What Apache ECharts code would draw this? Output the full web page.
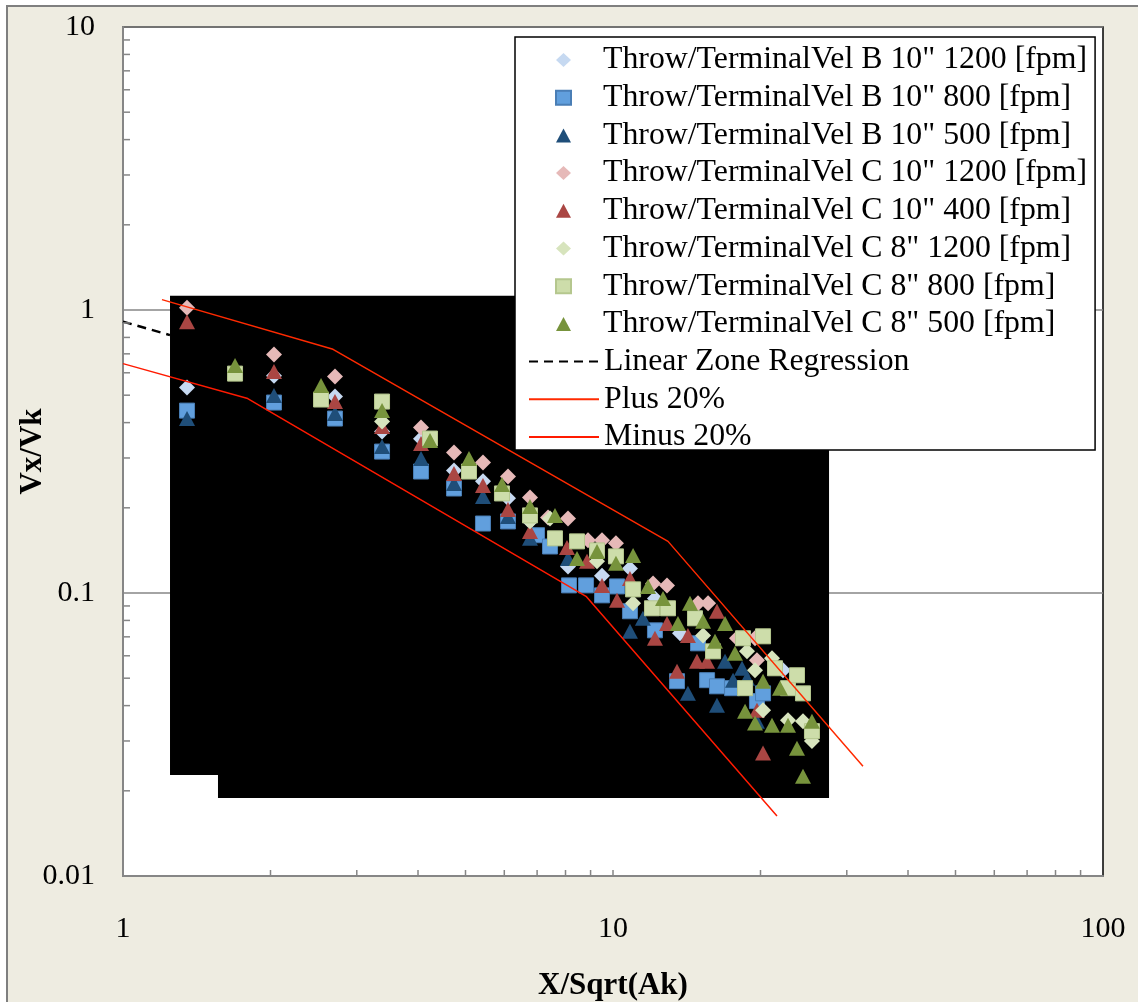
<!DOCTYPE html>
<html>
<head>
<meta charset="utf-8">
<script src="https://cdn.jsdelivr.net/npm/echarts@6/dist/echarts.min.js"></script>
<style>
  html, body { margin: 0; padding: 0; background: #fff; overflow: hidden; }
  #frame { position: absolute; left: 6px; top: 5px; width: 1140px; height: 1010px;
           background: #EEECE1; border-left: 2px solid #7F7F7F; border-top: 2px solid #7F7F7F; }
  #chart { position: absolute; left: 0; top: 0; width: 1138px; height: 1002px; }
</style>
</head>
<body>
<div id="frame"></div>
<div id="chart"></div>
<script>
// Throw / terminal velocity measurements, [X/Sqrt(Ak), Vx/Vk]
const seriesNames = [
  'Throw/TerminalVel B 10" 1200 [fpm]',
  'Throw/TerminalVel B 10" 800 [fpm]',
  'Throw/TerminalVel B 10" 500 [fpm]',
  'Throw/TerminalVel C 10" 1200 [fpm]',
  'Throw/TerminalVel C 10" 400 [fpm]',
  'Throw/TerminalVel C 8" 1200 [fpm]',
  'Throw/TerminalVel C 8" 800 [fpm]',
  'Throw/TerminalVel C 8" 500 [fpm]'
];
const lineNames = ['Linear Zone Regression', 'Plus 20%', 'Minus 20%'];

const b10_1200 = [[1.351,0.532],[2.033,0.586],[2.708,0.495],[3.378,0.372],[4.057,0.351],[4.737,0.271],
  [5.428,0.248],[6.105,0.216],[6.77,0.179],[8.094,0.124],[9.497,0.115],[10.83,0.122],[12.18,0.0957],
  [13.70,0.072],[22.23,0.0533]];
const b10_800 = [[1.351,0.441],[2.033,0.471],[2.708,0.4135],[3.378,0.316],[4.057,0.2687],[4.737,0.234],
  [5.428,0.176],[6.105,0.179],[6.997,0.160],[7.437,0.146],[8.132,0.1064],[8.81,0.1064],[9.497,0.0981],
  [10.19,0.1055],[10.83,0.0862],[12.18,0.0738],[13.51,0.0488],[14.91,0.0664],[15.56,0.0492],[16.30,0.0468],
  [17.50,0.0461],[19.67,0.0415],[20.24,0.0442]];
const b10_500 = [[1.351,0.4135],[2.033,0.4986],[2.708,0.4305],[3.378,0.3293],[4.057,0.2987],[4.737,0.2437],
  [5.428,0.2194],[6.105,0.1865],[6.77,0.156],[8.094,0.1325],[10.83,0.0732],[11.51,0.0814],[14.22,0.0442],
  [16.30,0.0401],[16.93,0.0574],[17.58,0.0492],[18.34,0.0542],[18.77,0.0500],[19.67,0.0352]];
const c10_1200 = [[1.351,1.019],[2.033,0.6956],[2.708,0.5816],[4.057,0.3844],[4.737,0.3137],[5.428,0.2891],
  [6.105,0.258],[6.77,0.2176],[7.37,0.185],[8.094,0.1835],[8.891,0.1535],[9.497,0.1535],[10.14,0.1498],
  [12.07,0.1081],[12.89,0.1064],[14.91,0.092],[15.63,0.092],[17.91,0.0692],[19.49,0.0692],[19.67,0.0578]];
const c10_400 = [[1.351,0.9095],[2.033,0.6058],[2.708,0.4747],[3.378,0.3875],[4.057,0.3375],[4.737,0.2644],
  [5.428,0.2399],[6.105,0.1974],[6.77,0.1651],[8.056,0.1449],[8.851,0.1294],[9.497,0.1064],[10.19,0.0942],
  [10.83,0.1126],[12.18,0.0692],[12.89,0.0781],[13.51,0.0529],[14.22,0.0708],[14.84,0.0574],[15.56,0.0574],
  [16.30,0.0862],[19.67,0.0385],[20.24,0.0272]];
const c8_1200 = [[3.378,0.4036],[6.77,0.1791],[7.437,0.1835],[9.277,0.1294],[10.99,0.092],[15.27,0.0708],
  [18.77,0.0622],[19.49,0.0533],[20.24,0.0385],[21.11,0.0588],[22.76,0.0355],[24.42,0.0352],[25.47,0.030]];
const c8_800 = [[1.693,0.596],[2.536,0.4827],[3.378,0.4747],[4.232,0.3514],[5.083,0.2687],[5.935,0.2248],
  [6.77,0.188],[7.614,0.156],[8.444,0.1522],[9.277,0.1414],[10.14,0.1347],[10.99,0.103],[12.01,0.0883],
  [12.95,0.0883],[14.70,0.0814],[16.00,0.0622],[18.42,0.0692],[20.24,0.0703],[18.60,0.0461],[21.41,0.0542],
  [22.76,0.0461],[23.74,0.0512],[24.42,0.0442],[25.47,0.0325]];
const c8_500 = [[1.693,0.636],[2.536,0.5407],[3.378,0.441],[4.232,0.3458],[5.083,0.2987],[5.935,0.2417],
  [6.77,0.2022],[7.614,0.188],[8.444,0.1325],[9.277,0.1403],[10.14,0.1273],[10.99,0.1358],[11.79,0.1055],
  [12.65,0.0957],[13.57,0.0781],[14.36,0.092],[15.27,0.0794],[16.15,0.0675],[16.93,0.0781],[17.74,0.0612],
  [18.60,0.0382],[19.49,0.0347],[20.24,0.0488],[21.11,0.0341],[21.92,0.0461],[22.76,0.0341],[23.74,0.0283],
  [24.42,0.0225],[25.47,0.0352]];

const regression = [[1, 0.91], [1.247, 0.815]];
const plus20 = [[1.201, 1.088], [2.683, 0.7262], [12.95, 0.1522], [32.37, 0.02444]];
const minus20 = [[1, 0.6464], [1.797, 0.4864], [8.81, 0.0973], [21.61, 0.01628]];

// filled block behind the data (two rectangles, corner pairs)
const blockRects = [
  [[1.2472, 1.1235], [27.6, 0.02273]],
  [[1.5626, 0.02273], [27.6, 0.01885]]
];

// minor tick positions
const xTicks = [2,3,4,5,6,7,8,9,10,20,30,40,50,60,70,80,90];
const yTicks = [0.02,0.03,0.04,0.05,0.06,0.07,0.08,0.09,0.2,0.3,0.4,0.5,0.6,0.7,0.8,0.9,2,3,4,5,6,7,8,9];

const FONT = 'Liberation Serif';
const LEGEND_FONT = 31.8;
const ROW = 37.7;
const seriesData = [b10_1200, b10_800, b10_500, c10_1200, c10_400, c8_1200, c8_800, c8_500];
const symbols = ['diamond','rect','triangle','diamond','triangle','diamond','rect','triangle'];
const colors = ['#C6D9F1','#619FDD','#1F4E79','#E6B9B8','#AA4643','#D7E4BD','#CDDDAA','#77933C'];
const borders = [null,'#4A7EB5',null,null,null,null,'#B5C78E',null];
const sizes = { diamond: 16, rect: 15, triangle: [16, 15] };

const chart = echarts.init(document.getElementById('chart'));

const scatterSeries = seriesNames.map((name, i) => ({
  type: 'scatter', name, data: seriesData[i], z: 3,
  symbol: symbols[i], symbolSize: sizes[symbols[i]], symbolKeepAspect: true,
  itemStyle: borders[i] ? { color: colors[i], borderColor: borders[i], borderWidth: 1, opacity: 1 } : { color: colors[i], opacity: 1 },
  emphasis: { disabled: true }
}));

chart.setOption({
  backgroundColor: 'transparent',
  animation: false,
  grid: {
    left: 123, top: 27, right: 35, bottom: 126, outerBoundsMode: 'none', containLabel: false,
    show: true, backgroundColor: '#fff', borderColor: '#000', borderWidth: 1.5
  },
  legend: [
    {
      // marker entries; its box also frames the line entries below
      orient: 'vertical', left: 515, top: 37,
      data: seriesNames,
      itemWidth: 15, itemHeight: 14, itemGap: ROW - 32,
      padding: [7, 8, 110, 40],
      backgroundColor: '#fff', borderColor: '#000', borderWidth: 1.5, borderRadius: 0,
      selectedMode: false,
      textStyle: { fontFamily: FONT, fontSize: LEGEND_FONT, color: '#000', padding: [0, 0, 0, 27] }
    },
    {
      // line entries
      orient: 'vertical', left: 528, top: 44 + 8 * ROW, z: 5,
      data: lineNames,
      itemWidth: 70, itemHeight: 14, itemGap: ROW - 32,
      padding: 0,
      itemStyle: { opacity: 0 },
      selectedMode: false,
      textStyle: { fontFamily: FONT, fontSize: LEGEND_FONT, color: '#000' }
    }
  ],
  xAxis: {
    type: 'log', logBase: 10, min: 1, max: 100,
    name: 'X/Sqrt(Ak)', nameLocation: 'middle', nameGap: 94, nameMoveOverlap: false,
    nameTextStyle: { fontFamily: FONT, fontSize: 31, fontWeight: 'bold', color: '#000' },
    axisLine: { show: true, onZero: false, lineStyle: { color: '#868686', width: 2 } },
    axisTick: { show: false },
    splitLine: { show: false },
    axisLabel: { fontFamily: FONT, fontSize: 30, color: '#000', margin: 38, showMinLabel: true, showMaxLabel: true }
  },
  yAxis: {
    type: 'log', logBase: 10, min: 0.01, max: 10,
    name: 'Vx/Vk', nameLocation: 'middle', nameGap: 75, nameMoveOverlap: false,
    nameTextStyle: { fontFamily: FONT, fontSize: 31, fontWeight: 'bold', color: '#000' },
    axisLine: { show: true, onZero: false, lineStyle: { color: '#868686', width: 2 } },
    axisTick: { show: false },
    splitLine: { show: true, lineStyle: { color: '#868686', width: 1.5 } },
    axisLabel: { fontFamily: FONT, fontSize: 30, color: '#000', margin: 28, padding: [6, 0, 0, 0], showMinLabel: true, showMaxLabel: true }
  },
  series: [
    {
      type: 'line', name: lineNames[0], data: regression, z: 1, symbol: 'none',
      lineStyle: { color: '#000', width: 2.5, type: [9, 6] }, itemStyle: { color: '#000' }
    },
    {
      type: 'custom', name: 'block', data: blockRects, z: 2, silent: true,
      renderItem: (params, api) => {
        const r = blockRects[params.dataIndex];
        const a = api.coord(r[0]), b = api.coord(r[1]);
        return { type: 'rect', shape: { x: a[0], y: a[1], width: b[0] - a[0], height: b[1] - a[1] }, style: { fill: '#000' } };
      },
      encode: { x: -1, y: -1 }
    },
    ...scatterSeries,
    {
      type: 'line', name: lineNames[1], data: plus20, z: 4, symbol: 'none', clip: false,
      lineStyle: { color: '#FF2A00', width: 1.5 }, itemStyle: { color: '#FF2A00' }
    },
    {
      type: 'line', name: lineNames[2], data: minus20, z: 4, symbol: 'none', clip: false,
      lineStyle: { color: '#FF1A00', width: 1.5 }, itemStyle: { color: '#FF1A00' }
    },
    {
      type: 'custom', name: 'xticks', data: xTicks.map(v => [v, 0.01]), z: 5, silent: true, clip: false,
      renderItem: (params, api) => {
        const p = api.coord([api.value(0), api.value(1)]);
        return { type: 'line', shape: { x1: p[0], y1: p[1], x2: p[0], y2: p[1] - 6 }, style: { stroke: '#868686', lineWidth: 1.5 } };
      }
    },
    {
      type: 'custom', name: 'yticks', data: yTicks.map(v => [1, v]), z: 5, silent: true, clip: false,
      renderItem: (params, api) => {
        const p = api.coord([api.value(0), api.value(1)]);
        return { type: 'line', shape: { x1: p[0], y1: p[1], x2: p[0] + 7, y2: p[1] }, style: { stroke: '#868686', lineWidth: 1.5 } };
      }
    }
  ]
});
</script>
</body>
</html>
